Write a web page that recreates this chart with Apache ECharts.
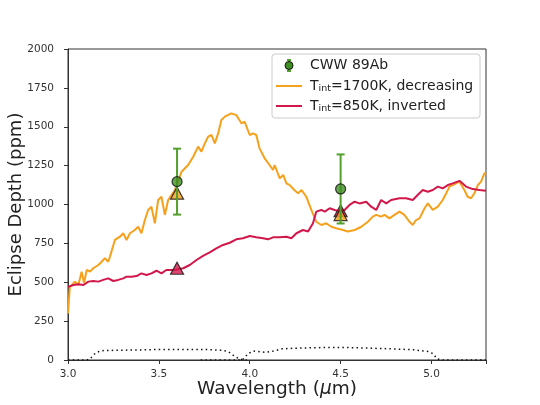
<!DOCTYPE html>
<html>
<head>
<meta charset="utf-8">
<script src="https://cdn.jsdelivr.net/npm/echarts@6/dist/echarts.min.js"></script>
<style>html,body{margin:0;padding:0;background:#fff}#c{width:540px;height:405px}</style>
</head>
<body>
<div id="c"></div>
<script>
// ---- Data ----
const xTicks = [3.0, 3.5, 4.0, 4.5, 5.0];
const yTicks = [0, 250, 500, 750, 1000, 1250, 1500, 1750, 2000];

const hotWl = [3.000,3.010,3.038,3.057,3.075,3.088,3.103,3.121,3.139,3.167,3.185,3.203,3.221,3.231,3.258,3.286,3.304,3.322,3.341,3.368,3.386,3.404,3.423,3.441,3.459,3.478,3.496,3.514,3.533,3.551,3.588,3.625,3.661,3.689,3.716,3.734,3.753,3.771,3.789,3.808,3.826,3.844,3.863,3.899,3.926,3.954,3.972,4.000,4.018,4.036,4.054,4.082,4.109,4.128,4.137,4.165,4.184,4.202,4.220,4.248,4.266,4.285,4.311,4.339,4.366,4.394,4.421,4.449,4.476,4.513,4.540,4.577,4.614,4.650,4.677,4.696,4.723,4.742,4.769,4.796,4.824,4.851,4.879,4.897,4.915,4.934,4.962,4.980,5.007,5.035,5.062,5.081,5.099,5.117,5.136,5.154,5.181,5.199,5.218,5.236,5.255,5.273,5.291,5.300];
const hotDepth = [300,470,503,482,568,495,579,568,590,611,632,655,632,665,772,793,815,772,815,836,857,815,900,965,986,879,1029,1050,933,1029,1093,1211,1254,1307,1372,1340,1393,1436,1447,1393,1457,1543,1565,1586,1575,1522,1532,1447,1457,1447,1361,1297,1254,1222,1254,1168,1190,1136,1125,1090,1072,1093,1050,965,889,868,879,857,847,836,826,836,857,889,922,933,922,933,911,933,954,933,889,868,900,911,976,1007,965,986,1029,1072,1115,1125,1136,1147,1093,1050,1040,1072,1125,1147,1200,1205];

const invWl = [3.000,3.002,3.030,3.057,3.085,3.112,3.139,3.167,3.194,3.221,3.249,3.276,3.304,3.322,3.349,3.377,3.404,3.432,3.459,3.487,3.514,3.541,3.588,3.634,3.670,3.707,3.743,3.780,3.816,3.853,3.890,3.926,3.963,4.000,4.036,4.073,4.101,4.128,4.165,4.202,4.229,4.257,4.293,4.321,4.348,4.366,4.394,4.413,4.440,4.467,4.495,4.522,4.549,4.577,4.604,4.641,4.668,4.696,4.723,4.751,4.778,4.824,4.860,4.897,4.924,4.952,4.980,5.007,5.035,5.062,5.090,5.117,5.154,5.190,5.227,5.264,5.300];
const invDepth = [470,482,482,487,482,504,508,504,515,525,508,515,525,536,536,540,557,547,557,574,557,579,579,590,611,643,669,692,718,740,754,776,783,797,789,783,776,789,789,793,783,815,836,826,879,954,965,954,976,965,955,965,997,1018,1007,1018,986,965,1029,1007,1029,1040,1040,1029,1061,1093,1082,1093,1115,1104,1125,1136,1152,1115,1099,1093,1088];

const ch1Wl = [3.00,3.10,3.12,3.15,3.18,3.25,3.40,3.50,3.60,3.75,3.85,3.88,3.91,3.94,3.97,4.00];
const ch1Resp = [0,0,5,43,60,62,65,68,68,68,62,55,30,8,0,0];
const ch2Wl = [3.73,3.96,3.99,4.02,4.06,4.09,4.13,4.18,4.25,4.40,4.50,4.60,4.75,4.90,4.98,5.01,5.03,5.05,5.30];
const ch2Resp = [0,0,40,58,52,49,58,72,76,80,81,78,73,66,55,40,8,0,0];

const obsWl = [3.6, 4.5];
const obsDepth = [1147, 1100];
const obsErr = [212, 222];

const hotBandWl = [3.6, 4.5];
const hotBandDepth = [1073, 935];
const invBandWl = [3.6, 4.5];
const invBandDepth = [590, 960];

// ---- Build ----
const pairs = (xs, ys) => xs.map((x, i) => [x, ys[i]]);
const FONT = '"DejaVu Sans", sans-serif';
const ORANGE = '#f6a11c';
const RED = '#d2184a';
const GREEN = '#3e8e23';
const BARGREEN = '#52a02b';

const chart = echarts.init(document.getElementById('c'), null, {renderer: 'canvas'});

const option = {
  backgroundColor: '#fff',
  animation: false,
  grid: {left: 68, right: 54, top: 49, bottom: 45, show: true, borderColor: '#333', borderWidth: 1,
    containLabel: false, outerBoundsMode: 'none'},
  xAxis: {
    type: 'value', min: 3.0, max: 5.3, interval: 0.5,
    name: '{n|Wavelength (}{i|μ}{n|m)}', nameLocation: 'middle', nameGap: 20, nameMoveOverlap: false,
    nameTextStyle: {rich: {n: {fontSize: 18.5, fontFamily: FONT, color: '#222'}, i: {fontSize: 18.5, fontFamily: FONT, fontStyle: 'italic', color: '#222'}}},
    axisLine: {show: true, lineStyle: {color: '#333', width: 1}},
    axisTick: {show: true, length: 4, lineStyle: {color: '#333'}},
    axisLabel: {fontSize: 10.5, fontFamily: FONT, color: '#333', margin: 9,
      formatter: v => (xTicks.some(t => Math.abs(t - v) < 1e-6) ? v.toFixed(1) : '')},
    splitLine: {show: false}
  },
  yAxis: {
    type: 'value', min: 0, max: 2000, interval: 250,
    name: 'Eclipse Depth (ppm)', nameLocation: 'middle', nameGap: 43, nameMoveOverlap: false,
    nameTextStyle: {fontSize: 18, fontFamily: FONT, color: '#222'},
    axisLine: {show: true, lineStyle: {color: '#333', width: 1}},
    axisTick: {show: true, length: 4, lineStyle: {color: '#333'}},
    axisLabel: {fontSize: 10.5, fontFamily: FONT, color: '#333', margin: 14,
      formatter: v => (yTicks.indexOf(v) >= 0 ? String(v) : '')},
    splitLine: {show: false}
  },
  series: [
    {type: 'line', data: pairs(ch1Wl, ch1Resp), showSymbol: false, z: 1,
      lineStyle: {color: '#111', width: 1.5, type: [1.5, 3.2]}},
    {type: 'line', data: pairs(ch2Wl, ch2Resp), showSymbol: false, z: 1,
      lineStyle: {color: '#111', width: 1.5, type: [1.5, 3.2]}},
    {type: 'line', name: 'hot', data: pairs(hotWl, hotDepth), showSymbol: false, z: 2,
      lineStyle: {color: ORANGE, width: 2}},
    {type: 'line', name: 'inv', data: pairs(invWl, invDepth), showSymbol: false, z: 2,
      lineStyle: {color: RED, width: 2}},
    {type: 'scatter', data: pairs(invBandWl, invBandDepth), symbol: 'triangle', symbolSize: [13, 12], z: 3,
      itemStyle: {color: RED, borderColor: '#111', borderWidth: 1.2}},
    {type: 'scatter', data: pairs(hotBandWl, hotBandDepth), symbol: 'triangle', symbolSize: [13, 12], z: 3,
      itemStyle: {color: ORANGE, borderColor: '#111', borderWidth: 1.2}},
    {type: 'custom', z: 4,
      data: obsWl.map((x, i) => [x, obsDepth[i], obsDepth[i] - obsErr[i], obsDepth[i] + obsErr[i]]),
      renderItem: (params, api) => {
        const x = api.value(0);
        const lo = api.coord([x, api.value(2)]);
        const hi = api.coord([x, api.value(3)]);
        const s = {stroke: BARGREEN, lineWidth: 2};
        return {type: 'group', children: [
          {type: 'line', shape: {x1: lo[0], y1: lo[1], x2: hi[0], y2: hi[1]}, style: s},
          {type: 'line', shape: {x1: lo[0] - 4, y1: lo[1], x2: lo[0] + 4, y2: lo[1]}, style: s},
          {type: 'line', shape: {x1: hi[0] - 4, y1: hi[1], x2: hi[0] + 4, y2: hi[1]}, style: s}
        ]};
      }},
    {type: 'scatter', data: pairs(obsWl, obsDepth), symbol: 'circle', symbolSize: 10, z: 5,
      itemStyle: {color: GREEN, borderColor: '#111', borderWidth: 1.2}}
  ],
  graphic: [
    {type: 'rect', shape: {x: 272, y: 54, width: 208, height: 64, r: 3},
      style: {fill: 'rgba(255,255,255,0.85)', stroke: '#cccccc', lineWidth: 1}, z: 10},
    {type: 'line', shape: {x1: 289, y1: 60, x2: 289, y2: 71}, style: {stroke: BARGREEN, lineWidth: 2}, z: 11},
    {type: 'line', shape: {x1: 287, y1: 60, x2: 291, y2: 60}, style: {stroke: BARGREEN, lineWidth: 2}, z: 11},
    {type: 'line', shape: {x1: 287, y1: 71, x2: 291, y2: 71}, style: {stroke: BARGREEN, lineWidth: 2}, z: 11},
    {type: 'circle', shape: {cx: 289, cy: 65.5, r: 4}, style: {fill: GREEN, stroke: '#111', lineWidth: 1}, z: 12},
    {type: 'text', x: 310, y: 65.5, style: {text: 'CWW 89Ab', font: '14px ' + FONT, fill: '#222', verticalAlign: 'middle'}, z: 12},
    {type: 'line', shape: {x1: 276, y1: 86, x2: 302, y2: 86}, style: {stroke: ORANGE, lineWidth: 2}, z: 11},
    {type: 'text', x: 310, y: 86, z: 12, style: {
      text: '{a|T}{b|int}{a|=1700K, decreasing}', verticalAlign: 'middle', fill: '#222',
      rich: {a: {fontSize: 14, fontFamily: FONT, fill: '#222'}, b: {fontSize: 9.5, fontFamily: FONT, fill: '#222', padding: [6, 0, 0, 0]}}}},
    {type: 'line', shape: {x1: 276, y1: 106, x2: 302, y2: 106}, style: {stroke: RED, lineWidth: 2}, z: 11},
    {type: 'text', x: 310, y: 106, z: 12, style: {
      text: '{a|T}{b|int}{a|=850K, inverted}', verticalAlign: 'middle', fill: '#222',
      rich: {a: {fontSize: 14, fontFamily: FONT, fill: '#222'}, b: {fontSize: 9.5, fontFamily: FONT, fill: '#222', padding: [6, 0, 0, 0]}}}}
  ]
};
chart.setOption(option);
</script>
</body>
</html>
